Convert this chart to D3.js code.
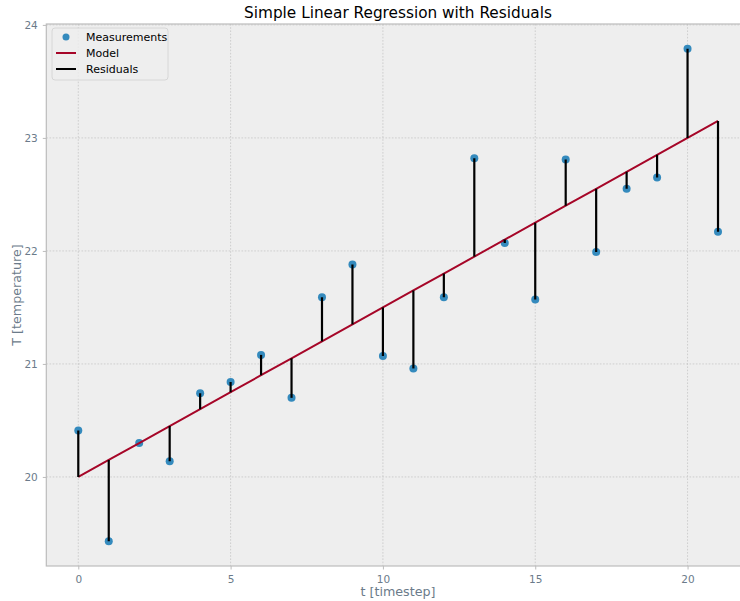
<!DOCTYPE html>
<html><head><meta charset="utf-8">
<script src="https://cdn.jsdelivr.net/npm/d3@7"></script>
<style>body{margin:0;background:#fff;} svg{display:block;font-family:"DejaVu Sans",sans-serif;}</style>
</head><body>
<svg id="c" width="740" height="601"></svg>
<script>
const timesteps = [0,1,2,3,4,5,6,7,8,9,10,11,12,13,14,15,16,17,18,19,20,21];
const measurements = [20.41,19.43,20.30,20.14,20.74,20.84,21.08,20.70,21.59,21.88,21.07,20.96,21.59,22.82,22.07,21.57,22.81,21.99,22.55,22.65,23.79,22.17];
const modelIntercept = 20.0;
const modelSlope = 0.15;
const xTicks = [0,5,10,15,20];
const yTicks = [20,21,22,23,24];
const title = "Simple Linear Regression with Residuals";
const xLabel = "t [timestep]";
const yLabel = "T [temperature]";
const legendLabels = ["Measurements","Model","Residuals"];

const model = timesteps.map(t => modelIntercept + modelSlope*t);

const svg = d3.select("#c");
const L = 46.3, R = 750, T = 24, B = 566;
const x = d3.scaleLinear().domain([-1.05, 22.05]).range([L, R]);
const y = d3.scaleLinear().domain([19.212, 24.008]).range([B, T]);
const tickColor = "#6b7b8a";

svg.append("defs").append("clipPath").attr("id","clip")
  .append("rect").attr("x",L).attr("y",T).attr("width",R-L).attr("height",B-T);

svg.append("rect").attr("x",L).attr("y",T).attr("width",R-L).attr("height",B-T).attr("fill","#eeeeee");

// grid
const g = svg.append("g");
g.selectAll(".gx").data(xTicks).join("line")
  .attr("x1",d=>x(d)).attr("x2",d=>x(d)).attr("y1",T).attr("y2",B)
  .attr("stroke","#b8b8b8").attr("stroke-width",0.6).attr("stroke-dasharray","1.6,1.6");
g.selectAll(".gy").data(yTicks).join("line")
  .attr("x1",L).attr("x2",R).attr("y1",d=>y(d)).attr("y2",d=>y(d))
  .attr("stroke","#b8b8b8").attr("stroke-width",0.6).attr("stroke-dasharray","1.6,1.6");

// axes
const xAxis = d3.axisBottom(x).tickValues(xTicks).tickSize(3.5).tickPadding(6).tickFormat(d3.format("d"));
const yAxis = d3.axisLeft(y).tickValues(yTicks).tickSize(3.5).tickPadding(5).tickFormat(d3.format("d"));
const gx = svg.append("g").attr("transform",`translate(0,${B})`).call(xAxis);
const gy = svg.append("g").attr("transform",`translate(${L},0)`).call(yAxis);
[gx,gy].forEach(a=>{
  a.select(".domain").remove();
  a.selectAll(".tick line").attr("stroke","#bcbcbc");
  a.selectAll(".tick text").attr("fill",tickColor).attr("font-size",10.5).attr("font-family","DejaVu Sans");
});

// spines
svg.append("rect").attr("x",L).attr("y",T).attr("width",R-L).attr("height",B-T)
  .attr("fill","none").attr("stroke","#bcbcbc").attr("stroke-width",1.2);

const plot = svg.append("g").attr("clip-path","url(#clip)");
// scatter
plot.selectAll("circle").data(timesteps).join("circle")
  .attr("cx",t=>x(t)).attr("cy",(t,i)=>y(measurements[i])).attr("r",4)
  .attr("fill","#348ABD");
// model
plot.append("path").datum(timesteps)
  .attr("d", d3.line().x(t=>x(t)).y((t,i)=>y(model[i])))
  .attr("fill","none").attr("stroke","#A60628").attr("stroke-width",2);
// residuals
plot.selectAll(".res").data(timesteps).join("line")
  .attr("x1",t=>x(t)).attr("x2",t=>x(t))
  .attr("y1",(t,i)=>y(measurements[i])).attr("y2",(t,i)=>y(model[i]))
  .attr("stroke","#000").attr("stroke-width",2.2);

// title & labels
svg.append("text").attr("x",398).attr("y",18).attr("text-anchor","middle")
  .attr("font-size",15.3).attr("fill","#000").text(title);
svg.append("text").attr("x",398).attr("y",596).attr("text-anchor","middle")
  .attr("font-size",12.7).attr("fill",tickColor).text(xLabel);
svg.append("text").attr("transform",`translate(21,${(T+B)/2}) rotate(-90)`).attr("text-anchor","middle")
  .attr("font-size",12.7).attr("fill",tickColor).text(yLabel);

// legend
const lg = svg.append("g").attr("transform","translate(52,28)");
lg.append("rect").attr("width",116).attr("height",52).attr("rx",3)
  .attr("fill","#eeeeee").attr("fill-opacity",0.8).attr("stroke","#d0d0d0").attr("stroke-width",0.8);
const rows = [9,25,41];
lg.append("circle").attr("cx",14).attr("cy",rows[0]).attr("r",3.5).attr("fill","#348ABD");
lg.append("line").attr("x1",4).attr("x2",24).attr("y1",rows[1]).attr("y2",rows[1]).attr("stroke","#A60628").attr("stroke-width",2);
lg.append("line").attr("x1",4).attr("x2",24).attr("y1",rows[2]).attr("y2",rows[2]).attr("stroke","#000").attr("stroke-width",2);
lg.selectAll(".lt").data(legendLabels).join("text")
  .attr("x",34).attr("y",(d,i)=>rows[i]+4).attr("font-size",11).attr("fill","#000").text(d=>d);
</script>
</body></html>
